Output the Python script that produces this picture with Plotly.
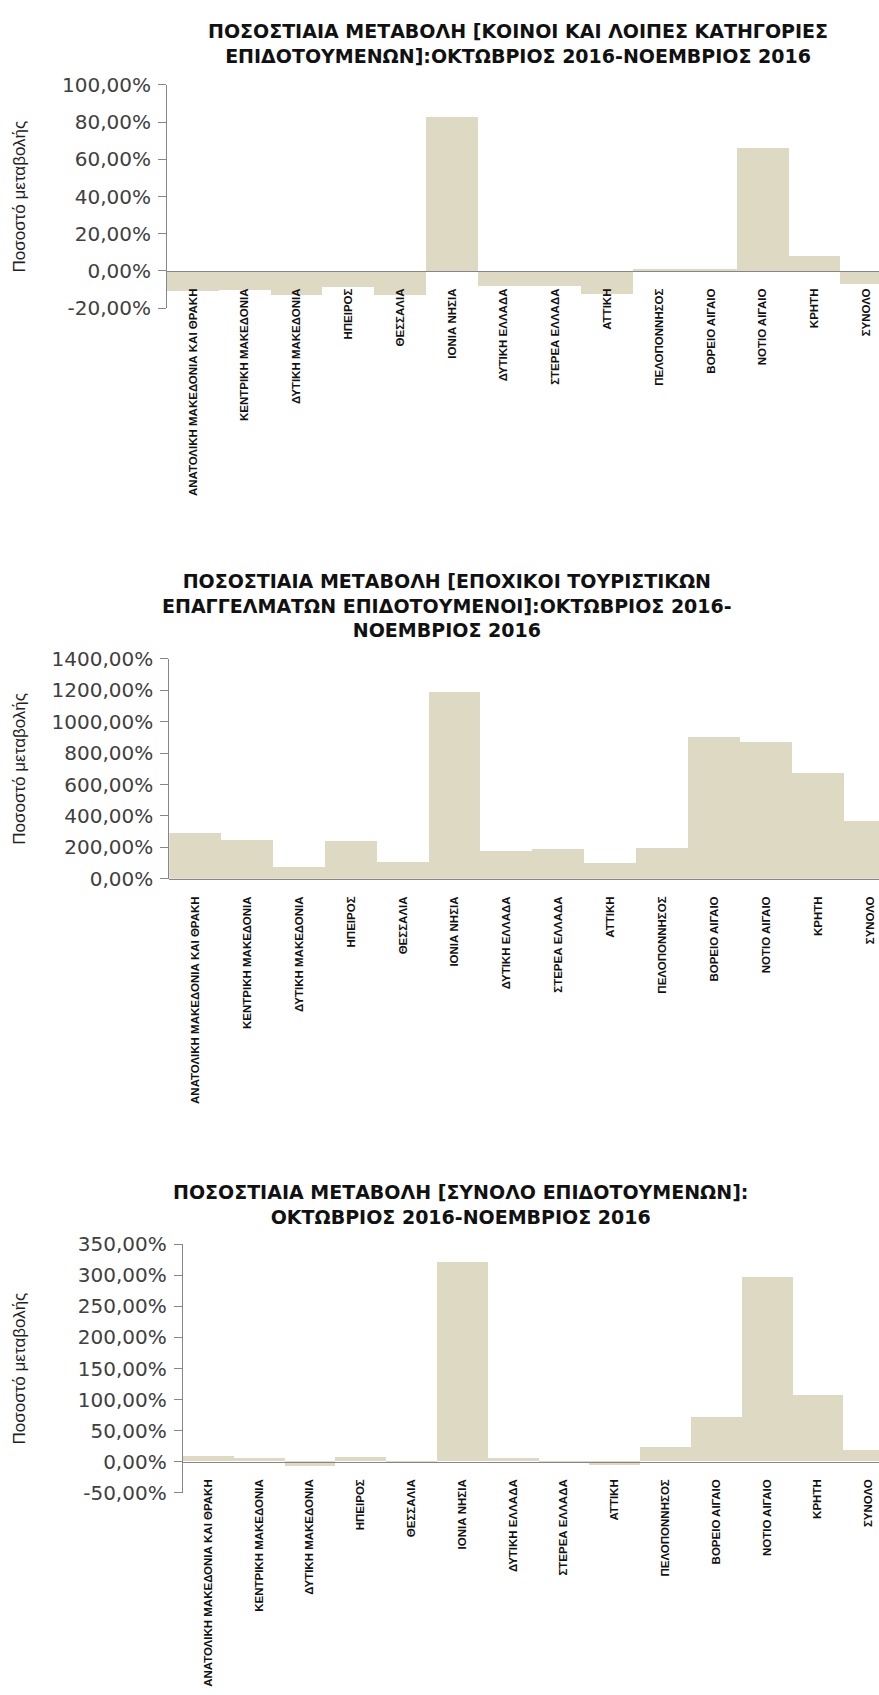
import plotly.graph_objects as go

W, H = 879, 1695

categories = ["ΑΝΑΤΟΛΙΚΗ ΜΑΚΕΔΟΝΙΑ ΚΑΙ ΘΡΑΚΗ", "ΚΕΝΤΡΙΚΗ ΜΑΚΕΔΟΝΙΑ", "ΔΥΤΙΚΗ ΜΑΚΕΔΟΝΙΑ",
              "ΗΠΕΙΡΟΣ", "ΘΕΣΣΑΛΙΑ", "ΙΟΝΙΑ ΝΗΣΙΑ", "ΔΥΤΙΚΗ ΕΛΛΑΔΑ", "ΣΤΕΡΕΑ ΕΛΛΑΔΑ",
              "ΑΤΤΙΚΗ", "ΠΕΛΟΠΟΝΝΗΣΟΣ", "ΒΟΡΕΙΟ ΑΙΓΑΙΟ", "ΝΟΤΙΟ ΑΙΓΑΙΟ", "ΚΡΗΤΗ", "ΣΥΝΟΛΟ"]

common_change = [-10.9, -10.4, -12.7, -8.5, -13.0, 82.7, -8.0, -8.1, -12.2, 0.7, 0.6, 66.2, 7.9, -6.9]
seasonal_change = [291, 247, 75, 243, 106, 1191, 182, 189, 100, 201, 906, 871, 675, 367]
total_change = [8.4, 5.8, -7.4, 7.4, -3.2, 321.5, 4.7, 0.5, -5.8, 23.2, 71.0, 297.0, 107.0, 19.0]

ticks1 = [-20, 0, 20, 40, 60, 80, 100]
ticktext1 = ["-20,00%", "0,00%", "20,00%", "40,00%", "60,00%", "80,00%", "100,00%"]
ticks2 = [0, 200, 400, 600, 800, 1000, 1200, 1400]
ticktext2 = ["0,00%", "200,00%", "400,00%", "600,00%", "800,00%", "1000,00%", "1200,00%", "1400,00%"]
ticks3 = [-50, 0, 50, 100, 150, 200, 250, 300, 350]
ticktext3 = ["-50,00%", "0,00%", "50,00%", "100,00%", "150,00%", "200,00%", "250,00%", "300,00%", "350,00%"]

title1 = "ΠΟΣΟΣΤΙΑΙΑ ΜΕΤΑΒΟΛΗ [ΚΟΙΝΟΙ ΚΑΙ ΛΟΙΠΕΣ ΚΑΤΗΓΟΡΙΕΣ<br>ΕΠΙΔΟΤΟΥΜΕΝΩΝ]:ΟΚΤΩΒΡΙΟΣ 2016-ΝΟΕΜΒΡΙΟΣ 2016"
title2 = "ΠΟΣΟΣΤΙΑΙΑ ΜΕΤΑΒΟΛΗ [ΕΠΟΧΙΚΟΙ ΤΟΥΡΙΣΤΙΚΩΝ<br>ΕΠΑΓΓΕΛΜΑΤΩΝ ΕΠΙΔΟΤΟΥΜΕΝΟΙ]:ΟΚΤΩΒΡΙΟΣ 2016-<br>ΝΟΕΜΒΡΙΟΣ 2016"
title3 = "ΠΟΣΟΣΤΙΑΙΑ ΜΕΤΑΒΟΛΗ [ΣΥΝΟΛΟ ΕΠΙΔΟΤΟΥΜΕΝΩΝ]:<br>ΟΚΤΩΒΡΙΟΣ 2016-ΝΟΕΜΒΡΙΟΣ 2016"
ytitle = "Ποσοστό μεταβολής"

BAR = "#DDD9C3"
AX = "#868686"
TICKFONT = dict(family="DejaVu Sans", size=20, color="#404040")
XFONT = dict(family="Liberation Sans Narrow, Arial Narrow, Liberation Sans", size=11.5,
             color="#111111", weight="bold")
TFONT = dict(family="DejaVu Sans", size=19, color="#111111")


def py(px):
    return 1 - px / H


def pxx(px):
    return px / W


# plot areas in pixels: (left, top, bottom, category width)
panels = [
    dict(left=167, top=74, bottom=300.4, cw=51.8, yr=[-20, 100], tv=ticks1, tt=ticktext1,
         data=common_change, title=title1, tx=518, ty=32),
    dict(left=169.3, top=656, bottom=879.3, cw=51.9, yr=[0, 1400], tv=ticks2, tt=ticktext2,
         data=seasonal_change, title=title2, tx=447, ty=602),
    dict(left=182.7, top=1250, bottom=1502, cw=50.8, yr=[-50, 350], tv=ticks3, tt=ticktext3,
         data=total_change, title=title3, tx=460, ty=1210),
]

fig = go.Figure()
layout = dict(width=W, height=H, margin=dict(l=0, r=0, t=0, b=0), autosize=False,
              paper_bgcolor="white", plot_bgcolor="white", showlegend=False,
              bargap=0, annotations=[])

for i, p in enumerate(panels, start=1):
    xa = "x" if i == 1 else f"x{i}"
    ya = "y" if i == 1 else f"y{i}"
    fig.add_trace(go.Bar(x=categories, y=p["data"], xaxis=xa, yaxis=ya,
                         marker=dict(color=BAR, line=dict(width=0)), width=1.0,
                         hoverinfo="skip"))
    d0, d1 = py(p["bottom"]), py(p["top"])
    ymin, ymax = p["yr"]
    zero_pos = d0 + (0 - ymin) / (ymax - ymin) * (d1 - d0)
    xr_end = -0.5 + (W - p["left"]) / p["cw"]
    key_x = "xaxis" if i == 1 else f"xaxis{i}"
    key_y = "yaxis" if i == 1 else f"yaxis{i}"
    layout[key_x] = dict(domain=[pxx(p["left"]), 1], range=[-0.5, xr_end], type="category",
                         anchor="free", position=zero_pos, showline=True, linecolor=AX,
                         linewidth=1, showgrid=False, zeroline=False,
                         ticks="outside", ticklen=12, tickcolor="rgba(0,0,0,0)",
                         tickangle=-90, tickfont=XFONT, fixedrange=True)
    layout[key_y] = dict(domain=[d0, d1], range=p["yr"], anchor=xa, showline=True,
                         linecolor=AX, linewidth=1, showgrid=False, zeroline=False,
                         ticks="outside", ticklen=8, tickcolor=AX,
                         tickvals=p["tv"], ticktext=p["tt"], tickfont=TICKFONT,
                         ticklabelstandoff=3, fixedrange=True)
    layout["annotations"].append(dict(text="<b>" + p["title"].replace("<br>", "</b><br><b>") + "</b>",
                                      x=pxx(p["tx"]), y=py(p["ty"]), xref="paper", yref="paper",
                                      xanchor="center", yanchor="middle", showarrow=False,
                                      font=TFONT, align="center"))
    layout["annotations"].append(dict(text=ytitle, x=pxx(20), y=py((p["top"] + p["bottom"]) / 2),
                                      xref="paper", yref="paper", textangle=-90,
                                      xanchor="center", yanchor="middle", showarrow=False,
                                      font=dict(family="Liberation Sans", size=17, color="#222222")))

fig.update_layout(**layout)
fig.write_html("out.html", config={"displayModeBar": False},
               post_script="document.body.style.margin='0';document.body.style.overflow='hidden';")
